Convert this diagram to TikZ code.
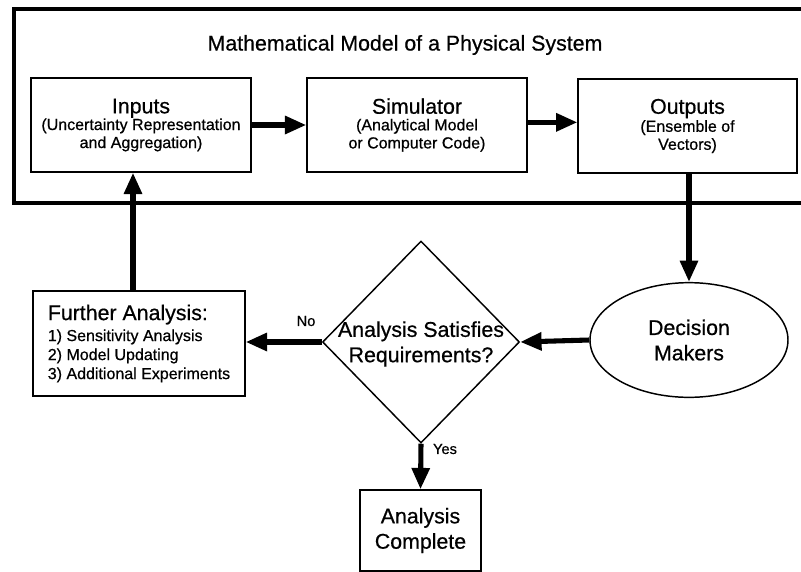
\documentclass[tikz,border=0pt]{standalone}
\usepackage{fontspec}
\setmainfont[FakeBold=0.6]{Liberation Sans}
\usetikzlibrary{arrows.meta}
\usetikzlibrary{shapes.geometric}

\newcommand{\hdfont}{\fontsize{16}{19}\selectfont}
\newcommand{\sbfont}{\fontsize{12}{13.5}\selectfont}

\tikzset{
  block/.style={draw, line width=1.1pt, rectangle, align=center, inner sep=0pt, font=\sbfont},
  flow/.style={line width=3.8pt, -{Triangle[length=16pt,width=13pt]}},
}

\begin{document}
\begin{tikzpicture}[x=0.75pt,y=0.75pt,yscale=-1,xscale=1]
\useasboundingbox (0,0) rectangle (801,572);

%Shape: Rectangle (model frame, open to the right)
\draw [line width=3pt] (14,9) rectangle (830,203) ;
% Text Node
\node (title) at (405,45) {\hdfont Mathematical Model of a Physical System};

%Shape: Rectangle
\node [block, minimum width=165pt, minimum height=70.5pt] (inp) at (141,125)
  {{\hdfont Inputs}\\[-1pt](Uncertainty Representation\\and Aggregation)};
%Shape: Rectangle
\node [block, minimum width=165pt, minimum height=70.5pt] (sim) at (417,125)
  {{\hdfont Simulator}\\[-1pt](Analytical Model\\or Computer Code)};
%Shape: Rectangle
\node [block, minimum width=164pt, minimum height=70.5pt] (out) at (687.5,126)
  {{\hdfont Outputs}\\[0pt](Ensemble of\\Vectors)};

%Shape: Ellipse
\node [draw, ellipse, line width=1.1pt, inner sep=0pt, minimum width=148.5pt, minimum height=86pt,
  align=center, font=\hdfont] (dm) at (689,340) {Decision\\Makers};
%Shape: Diamond
\node [draw, diamond, line width=1.1pt, inner sep=0pt, minimum width=147.75pt, minimum height=151.5pt] (req) at (421,342) {};
% Text Node
\node [align=center, font=\hdfont] (reqtxt) at (421,344) {Analysis Satisfies\\Requirements?};

%Shape: Rectangle
\node [block, minimum width=159pt, minimum height=78.75pt, align=left, font={\fontsize{12}{14.25}\selectfont}] (fa) at (139,343.5)
  {{\hdfont Further Analysis:}\\[1.5pt]1) Sensitivity Analysis\\2) Model Updating\\3) Additional Experiments};
%Shape: Rectangle
\node [block, minimum width=90.75pt, minimum height=60.75pt, font=\hdfont] (done) at (420.5,530.5)
  {Analysis\\Complete};

%Straight Lines
\draw [flow] (inp.east) -- (sim.west) ;
\draw [flow] ([yshift=-2pt]sim.east) -- ([yshift=-2pt]sim.east -| out.west) ;
\draw [flow] (out.south -| dm.north) -- (dm.north) ;
\draw [flow] (dm.west) -- (req.east) ;
\draw [flow] (req.west) -- (fa.east |- req.west) ;
\draw [flow] ([xshift=-4.5pt]fa.north) -- ([xshift=-4.5pt]fa.north |- inp.south) ;
\draw [flow] (req.south) -- (done.north) ;

% Text Node
\node [font={\fontsize{11}{13}\selectfont}] (no) at (306,321) {No};
% Text Node
\node [font={\fontsize{11}{13}\selectfont}] (yes) at (445,449) {Yes};

\end{tikzpicture}
\end{document}
